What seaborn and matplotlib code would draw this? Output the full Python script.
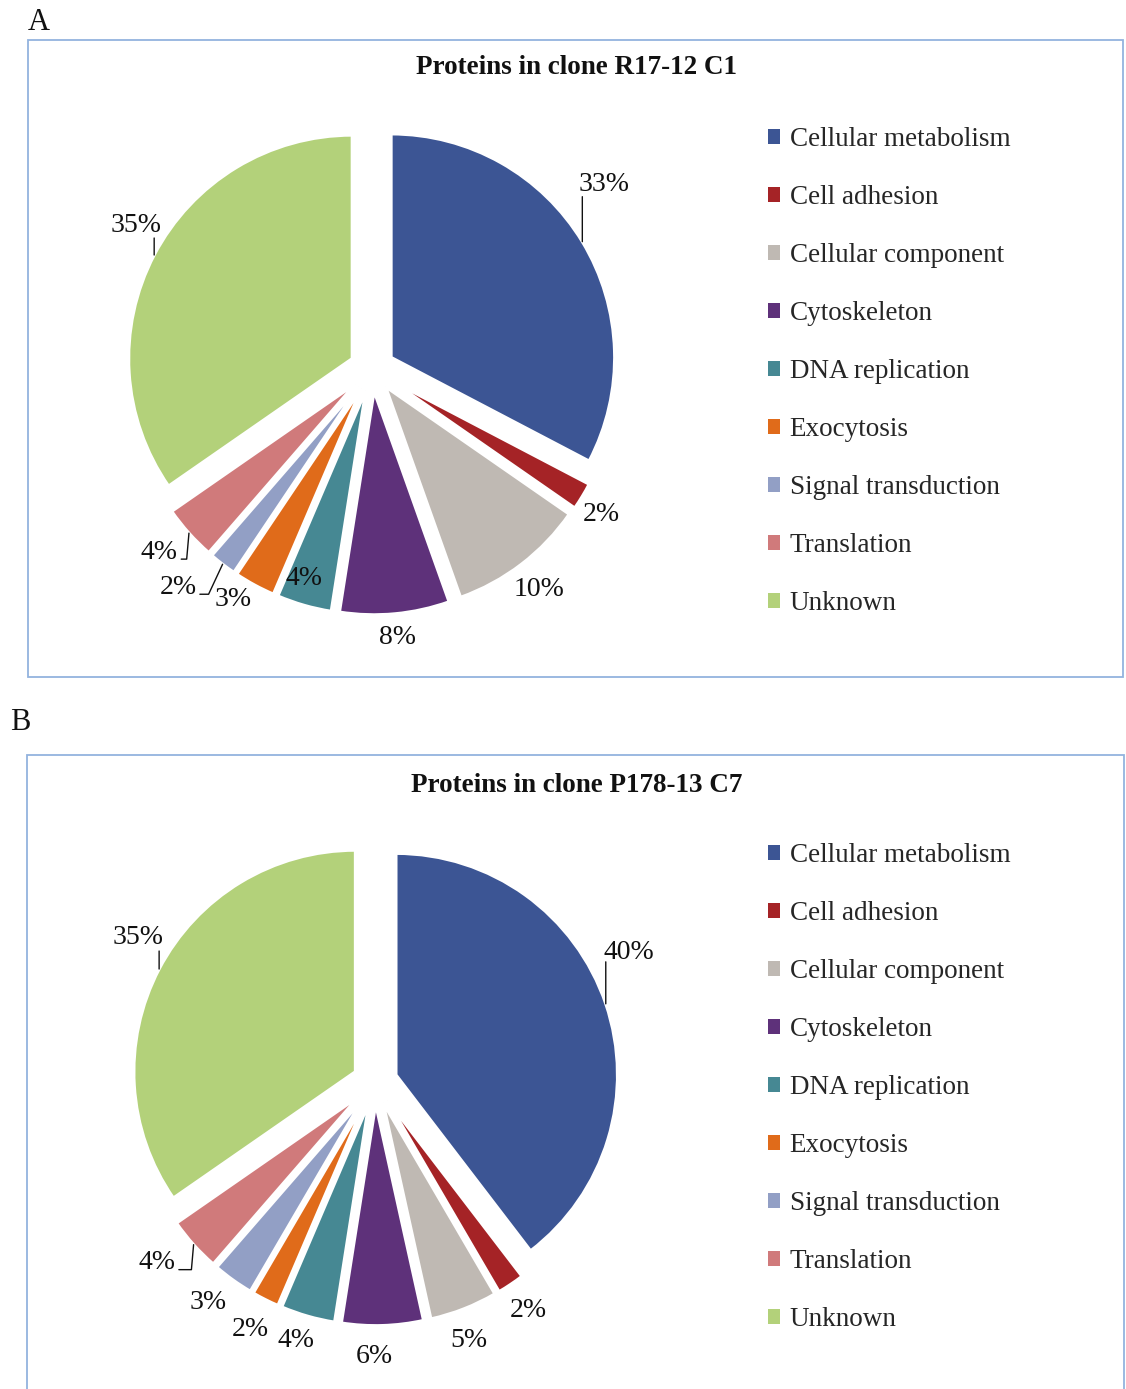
import matplotlib
matplotlib.use("Agg")
import matplotlib.pyplot as plt
import seaborn as sns
import numpy as np
from matplotlib.patches import Rectangle, Patch

# ---------------- data ----------------
categories = ["Cellular metabolism", "Cell adhesion", "Cellular component",
              "Cytoskeleton", "DNA replication", "Exocytosis",
              "Signal transduction", "Translation", "Unknown"]
values_a = [33, 2, 10, 8, 4, 3, 2, 4, 35]
values_b = [40, 2, 5, 6, 4, 2, 3, 4, 35]
title_a = "Proteins in clone R17-12 C1"
title_b = "Proteins in clone P178-13 C7"
panel_letters = ["A", "B"]
colors = ["#3C5594", "#A52326", "#BFB9B3", "#5E317A", "#468893",
          "#E06B1A", "#929FC5", "#D07A7B", "#B3D17A"]

# ---------------- style ----------------
sns.set_theme(style="white")
plt.rcParams["font.family"] = ["Liberation Serif", "DejaVu Serif"]
palette = sns.color_palette(colors)

W, H = 1126, 1389
fig = plt.figure(figsize=(W / 100, H / 100), dpi=100)
fig.patch.set_facecolor("white")


def fx(x):
    return x / W


def fy(y):
    return 1 - y / H


PX2PT = 0.72
EXPLODE = 0.1
LABEL_FS = 20
LEG_FS = 19.5
TITLE_FS = 19.5
INK = "#111111"

# label layout
# plain:  index -> (radius factor, angle offset deg)
# line:   index -> (text dx px, baseline dy px (up), ha, line length px)
# hook:   index -> (text dx px, text-centre dy px (up), angleB)
panels = [
    dict(values=values_a, title=title_a, letter=panel_letters[0],
         cx=372, cy=369, r=223.5,
         box=(28, 40, 1123, 677), letter_xy=(28, 30), title_xy=(576, 68),
         legend_top=127,
         plain={1: (1.215, -1.3), 2: (1.235, -0.3), 3: (1.205, 0), 4: (0.985, -2),
                5: (1.205, -2.5)},
         line={0: (-4, 51, "left", 45), 8: (7, 23, "right", 17)},
         hook={6: (-26, -23, 65), 7: (-11, -19, 85)}),
    dict(values=values_b, title=title_b, letter=panel_letters[1],
         cx=375, cy=1082, r=221.5,
         box=(27, 755, 1124, 1400), letter_xy=(10, 730), title_xy=(577, 786),
         legend_top=843,
         plain={1: (1.24, 0), 2: (1.24, -1.5), 3: (1.24, -2), 4: (1.22, -1),
                5: (1.25, 0), 6: (1.25, -1.5)},
         line={0: (-2, 45, "left", 42), 8: (4, 25, "right", 18)},
         hook={7: (-18, -18, 85)}),
]

S = 300  # half size of pie axes in px
for p in panels:
    x0, y0, x1, y1 = p["box"]
    fig.add_artist(Rectangle((fx(x0), fy(y1)), (x1 - x0) / W, (y1 - y0) / H,
                             transform=fig.transFigure, fill=False,
                             edgecolor="#93B3DE", linewidth=1.3))
    fig.text(fx(p["letter_xy"][0]), fy(p["letter_xy"][1]), p["letter"],
             fontsize=22, ha="left", va="baseline", color=INK)
    fig.text(fx(p["title_xy"][0]), fy(p["title_xy"][1]), p["title"],
             fontsize=TITLE_FS, fontweight="bold", ha="center", va="center",
             color=INK)

    cx, cy, r = p["cx"], p["cy"], p["r"]
    ax = fig.add_axes([fx(cx - S), fy(cy + S), 2 * S / W, 2 * S / H])
    vals = p["values"]
    wedges, _ = ax.pie(vals, colors=palette, startangle=90, counterclock=False,
                       explode=[EXPLODE] * len(vals), radius=1,
                       wedgeprops=dict(linewidth=2.2, edgecolor="white"))
    lim = S / r
    ax.set_xlim(-lim, lim)
    ax.set_ylim(-lim, lim)
    ax.set_aspect("equal")
    ax.axis("off")

    for i, w in enumerate(wedges):
        bis = np.deg2rad((w.theta1 + w.theta2) / 2)
        lab = f"{vals[i]}%"
        ex, ey = (1 + EXPLODE) * np.cos(bis), (1 + EXPLODE) * np.sin(bis)
        if i in p["plain"]:
            rf, off = p["plain"][i]
            a = bis + np.deg2rad(off)
            ax.text(rf * np.cos(a), rf * np.sin(a), lab, fontsize=LABEL_FS,
                    ha="center", va="center", color=INK)
        elif i in p["line"]:
            dx, dy, ha, ln = p["line"][i]
            ax.annotate("", xy=(ex, ey), xytext=(0, ln * PX2PT),
                        textcoords="offset points",
                        arrowprops=dict(arrowstyle="-", color=INK, lw=1.0,
                                        shrinkA=0, shrinkB=0))
            ax.annotate(lab, xy=(ex, ey), xytext=(dx * PX2PT, dy * PX2PT),
                        textcoords="offset points", fontsize=LABEL_FS,
                        ha=ha, va="baseline", color=INK)
        else:
            dx, dy, angb = p["hook"][i]
            ax.annotate(lab, xy=(ex, ey), xytext=(dx * PX2PT, dy * PX2PT),
                        textcoords="offset points", fontsize=LABEL_FS,
                        ha="right", va="center", color=INK,
                        arrowprops=dict(arrowstyle="-", color=INK, lw=1.0,
                                        relpos=(1, 0.22),
                                        connectionstyle=f"angle,angleA=0,angleB={angb},rad=0",
                                        shrinkA=0, shrinkB=0))

    handles = [Patch(facecolor=c, edgecolor="none") for c in palette]
    fig.legend(handles, categories, loc="upper left",
               bbox_to_anchor=(fx(768), fy(p["legend_top"])),
               frameon=False, fontsize=LEG_FS, handlelength=0.45,
               handleheight=0.45, handletextpad=0.35, labelspacing=1.22,
               borderpad=0, borderaxespad=0)

fig.savefig("out.png", dpi=100, facecolor="white")
